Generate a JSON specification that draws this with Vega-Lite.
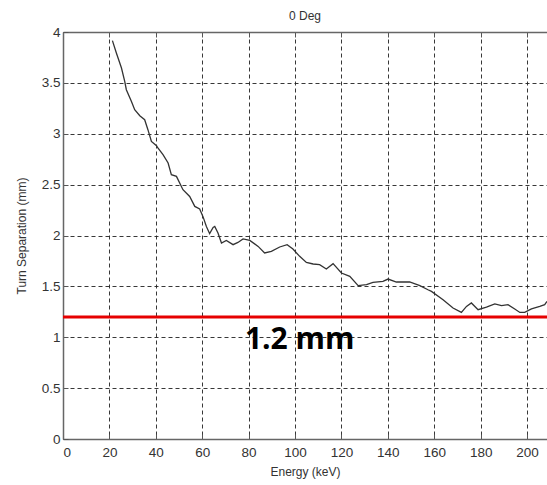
{
  "$schema": "https://vega.github.io/schema/vega-lite/v6.json",
  "width": 484,
  "height": 407,
  "autosize": {"type": "none"},
  "padding": {"left": 63, "top": 32, "right": 0, "bottom": 46},
  "background": "white",
  "title": {"text": "0 Deg", "fontSize": 12, "font": "Liberation Sans", "fontWeight": "normal", "color": "#333", "offset": 2},
  "config": {
    "view": {"stroke": null},
    "axis": {
      "labelFont": "Liberation Sans",
      "labelFontSize": 13.5,
      "labelColor": "#333",
      "titleFont": "Liberation Sans",
      "titleFontSize": 12,
      "titleFontWeight": "normal",
      "titleColor": "#333",
      "domainColor": "#666",
      "domainWidth": 1.5,
      "tickColor": "#555",
      "gridColor": "#222",
      "gridDash": [4, 3],
      "gridWidth": 1,
      "gridOpacity": 0.9
    }
  },
  "resolve": {"axis": {"x": "independent"}},
  "datasets": {
    "curve": [
      {"energy": 21.3, "sep": 3.915},
      {"energy": 23.0, "sep": 3.794},
      {"energy": 25.2, "sep": 3.646},
      {"energy": 26.6, "sep": 3.515},
      {"energy": 27.3, "sep": 3.433},
      {"energy": 29.5, "sep": 3.318},
      {"energy": 30.9, "sep": 3.236},
      {"energy": 33.1, "sep": 3.177},
      {"energy": 35.2, "sep": 3.138},
      {"energy": 36.6, "sep": 3.040},
      {"energy": 38.1, "sep": 2.925},
      {"energy": 40.3, "sep": 2.883},
      {"energy": 40.9, "sep": 2.860},
      {"energy": 43.1, "sep": 2.794},
      {"energy": 45.3, "sep": 2.713},
      {"energy": 46.7, "sep": 2.598},
      {"energy": 48.9, "sep": 2.581},
      {"energy": 51.7, "sep": 2.450},
      {"energy": 54.6, "sep": 2.384},
      {"energy": 56.8, "sep": 2.286},
      {"energy": 58.9, "sep": 2.260},
      {"energy": 60.3, "sep": 2.188},
      {"energy": 61.8, "sep": 2.089},
      {"energy": 63.2, "sep": 2.018},
      {"energy": 64.7, "sep": 2.080},
      {"energy": 65.4, "sep": 2.089},
      {"energy": 66.8, "sep": 2.025},
      {"energy": 68.3, "sep": 1.926},
      {"energy": 70.4, "sep": 1.952},
      {"energy": 73.3, "sep": 1.910},
      {"energy": 75.4, "sep": 1.932},
      {"energy": 77.6, "sep": 1.966},
      {"energy": 80.5, "sep": 1.952},
      {"energy": 84.1, "sep": 1.893},
      {"energy": 86.9, "sep": 1.828},
      {"energy": 89.8, "sep": 1.844},
      {"energy": 93.4, "sep": 1.887},
      {"energy": 96.6, "sep": 1.910},
      {"energy": 99.1, "sep": 1.867},
      {"energy": 102.0, "sep": 1.795},
      {"energy": 104.9, "sep": 1.736},
      {"energy": 107.8, "sep": 1.720},
      {"energy": 110.6, "sep": 1.713},
      {"energy": 113.5, "sep": 1.671},
      {"energy": 116.4, "sep": 1.723},
      {"energy": 120.0, "sep": 1.631},
      {"energy": 123.6, "sep": 1.598},
      {"energy": 127.2, "sep": 1.507},
      {"energy": 130.8, "sep": 1.517},
      {"energy": 133.6, "sep": 1.539},
      {"energy": 137.9, "sep": 1.549},
      {"energy": 140.1, "sep": 1.572},
      {"energy": 143.7, "sep": 1.543},
      {"energy": 149.4, "sep": 1.543},
      {"energy": 153.8, "sep": 1.507},
      {"energy": 157.3, "sep": 1.467},
      {"energy": 158.8, "sep": 1.451},
      {"energy": 163.8, "sep": 1.369},
      {"energy": 168.1, "sep": 1.287},
      {"energy": 171.7, "sep": 1.244},
      {"energy": 173.9, "sep": 1.303},
      {"energy": 176.0, "sep": 1.337},
      {"energy": 178.9, "sep": 1.271},
      {"energy": 182.5, "sep": 1.297},
      {"energy": 186.1, "sep": 1.327},
      {"energy": 189.0, "sep": 1.310},
      {"energy": 191.8, "sep": 1.320},
      {"energy": 194.7, "sep": 1.278},
      {"energy": 196.9, "sep": 1.244},
      {"energy": 199.0, "sep": 1.244},
      {"energy": 201.9, "sep": 1.278},
      {"energy": 205.5, "sep": 1.303},
      {"energy": 207.6, "sep": 1.320},
      {"energy": 208.6, "sep": 1.352}
    ],
    "ref": [{"y": 1.2, "x": 102, "ty": 0.885, "label": "1.2 mm"}]
  },
  "layer": [
    {
      "data": {"name": "curve"},
      "mark": {"type": "line", "color": "#333", "strokeWidth": 1.3},
      "encoding": {
        "x": {
          "field": "energy", "type": "quantitative",
          "scale": {"domain": [0, 208.6], "nice": false, "zero": false},
          "axis": {"orient": "bottom", "title": "Energy (keV)", "values": [0, 20, 40, 60, 80, 100, 120, 140, 160, 180, 200], "format": "d", "tickSize": -5, "labelPadding": 11, "titlePadding": 8, "grid": true}
        },
        "y": {
          "field": "sep", "type": "quantitative",
          "scale": {"domain": [0, 4], "nice": false},
          "axis": {"title": "Turn Separation (mm)", "values": [0, 0.5, 1, 1.5, 2, 2.5, 3, 3.5, 4], "format": "~g", "tickSize": -5, "labelPadding": 8, "titlePadding": 13, "grid": true}
        }
      }
    },
    {
      "data": {"name": "ref"},
      "mark": {"type": "rule", "color": "#e60000", "strokeWidth": 3},
      "encoding": {"y": {"field": "y", "type": "quantitative"}}
    },
    {
      "data": {"name": "ref"},
      "mark": {"type": "text", "font": "Open Sans", "fontWeight": "bold", "fontSize": 30, "color": "black", "align": "center", "baseline": "alphabetic"},
      "encoding": {
        "x": {
          "field": "x", "type": "quantitative",
          "axis": {"orient": "top", "title": null, "labels": false, "grid": false, "values": [0, 20, 40, 60, 80, 100, 120, 140, 160, 180, 200], "tickSize": -5}
        },
        "y": {"field": "ty", "type": "quantitative"},
        "text": {"field": "label"}
      }
    }
  ]
}
